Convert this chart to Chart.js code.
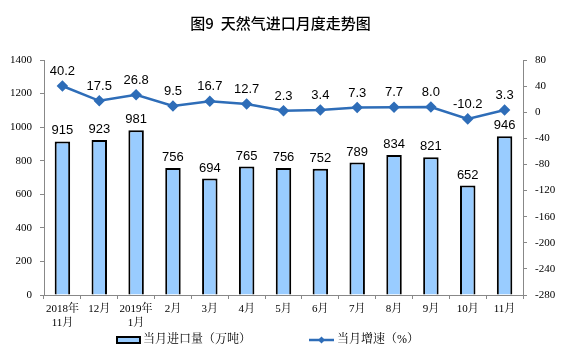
<!DOCTYPE html>
<html><head><meta charset="utf-8">
<script src="https://cdn.jsdelivr.net/npm/chart.js@4.4.1/dist/chart.umd.min.js"></script>
<style>html,body{margin:0;padding:0;background:#fff}#wrap{width:561px;height:357px}</style>
</head><body><div id="wrap"><canvas id="c" width="561" height="357"></canvas></div>
<script>
const categories = [['2018年','11月'],'12月',['2019年','1月'],'2月','3月','4月','5月','6月','7月','8月','9月','10月','11月'];
const importVolume = [915,923,981,756,694,765,756,752,789,834,821,652,946];
const growthRate = [40.2,17.5,26.8,9.5,16.7,12.7,2.3,3.4,7.3,7.7,8.0,-10.2,3.3];
const titleText = '图9  天然气进口月度走势图';
const barLabel = '当月进口量（万吨）';
const lineLabel = '当月增速（%）';

const serif = "'Liberation Serif','Noto Serif CJK SC','Noto Sans CJK SC',serif";
const sans = "'Liberation Sans',Arial,sans-serif";
const lineColor = '#2E6DB8';
const barFill = '#99CCFF';

const labelPlugin = {
  id: 'valueLabels',
  afterDatasetsDraw(chart) {
    const ctx = chart.ctx;
    ctx.save();
    ctx.font = '13px ' + sans;
    ctx.fillStyle = '#000';
    ctx.textAlign = 'center';
    ctx.textBaseline = 'bottom';
    chart.getDatasetMeta(0).data.forEach((el, i) => {
      ctx.fillText(String(importVolume[i]), el.x, el.y - 4);
    });
    chart.getDatasetMeta(1).data.forEach((el, i) => {
      ctx.fillText(growthRate[i].toFixed(1), el.x, el.y - 8);
    });
    ctx.restore();
  }
};

const legendPlugin = {
  id: 'customLegend',
  afterDraw(chart) {
    const ctx = chart.ctx;
    ctx.save();
    const y = 340;
    ctx.fillStyle = barFill;
    ctx.strokeStyle = '#000';
    ctx.lineWidth = 2;
    ctx.fillRect(117, y - 3, 23, 6);
    ctx.strokeRect(117, y - 3, 23, 6);
    ctx.font = '12px ' + serif;
    ctx.fillStyle = '#000';
    ctx.textBaseline = 'middle';
    ctx.textAlign = 'left';
    ctx.fillText(chart.data.datasets[0].label, 143, y);
    ctx.strokeStyle = lineColor;
    ctx.lineWidth = 2.5;
    ctx.beginPath(); ctx.moveTo(309, y); ctx.lineTo(334, y); ctx.stroke();
    ctx.fillStyle = lineColor;
    ctx.beginPath(); ctx.moveTo(321.5, y - 3.5); ctx.lineTo(325, y); ctx.lineTo(321.5, y + 3.5); ctx.lineTo(318, y); ctx.closePath(); ctx.fill();
    ctx.fillStyle = '#000';
    ctx.fillText(chart.data.datasets[1].label, 337, y);
    ctx.restore();
  }
};

new Chart(document.getElementById('c'), {
  data: {
    labels: categories,
    datasets: [
      { type: 'bar', label: barLabel, data: importVolume, yAxisID: 'y', order: 1,
        backgroundColor: barFill, borderColor: '#000', borderWidth: 2, barPercentage: 0.42, categoryPercentage: 1 },
      { type: 'line', label: lineLabel, data: growthRate, yAxisID: 'y1', order: 0,
        borderColor: lineColor, backgroundColor: lineColor, borderWidth: 2.5,
        pointStyle: 'rectRot', pointRadius: 4, pointBackgroundColor: lineColor, pointBorderColor: lineColor, tension: 0 }
    ]
  },
  options: {
    responsive: false, animation: false, devicePixelRatio: 1,
    layout: { padding: { left: 0, right: 0, top: 0, bottom: 22 } },
    plugins: {
      legend: { display: false },
      tooltip: { enabled: false },
      title: { display: true, text: titleText, color: '#000',
        font: { family: "'Noto Sans CJK SC',sans-serif", size: 15, weight: '500', lineHeight: 1.2 },
        padding: { top: 14, bottom: 28 } }
    },
    scales: {
      x: {
        offset: true,
        grid: { display: true, drawOnChartArea: false, drawTicks: true, tickLength: 4, offset: true, color: '#888' },
        border: { display: true, color: '#888', width: 1 },
        ticks: { color: '#000', font: { family: serif, size: 11, lineHeight: 1.2 }, maxRotation: 0, autoSkip: false, padding: 4 },
        afterFit(s) { s.height = 40; }
      },
      y: {
        position: 'left', min: 0, max: 1400,
        ticks: { stepSize: 200, color: '#000', font: { family: serif, size: 11 }, padding: 8, callback: v => String(v) },
        grid: { display: true, drawOnChartArea: false, drawTicks: true, tickLength: 4, color: '#888' },
        border: { display: true, color: '#888', width: 1 },
        afterFit(s) { s.width = 44; }
      },
      y1: {
        position: 'right', min: -280, max: 80,
        ticks: { stepSize: 40, color: '#000', font: { family: serif, size: 11 }, padding: 8, callback: v => String(v) },
        grid: { display: true, drawOnChartArea: false, drawTicks: true, tickLength: 4, color: '#888' },
        border: { display: true, color: '#888', width: 1 },
        afterFit(s) { s.width = 38; }
      }
    }
  },
  plugins: [labelPlugin, legendPlugin]
});
</script></body></html>
